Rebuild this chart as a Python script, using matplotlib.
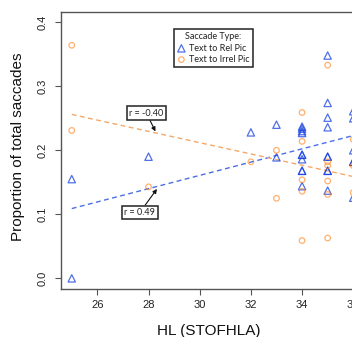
import matplotlib
matplotlib.use("Agg")
import matplotlib.pyplot as plt
import numpy as np

# ---- data ----
rel_x = [25, 25, 28, 32, 33, 33,
         34, 34, 34, 34, 34, 34, 34, 34, 34, 34,
         35, 35, 35, 35, 35, 35, 35, 35, 35,
         36, 36, 36, 36, 36, 36]
rel_y = [0.155, 0.0, 0.19, 0.228, 0.240, 0.189,
         0.237, 0.234, 0.230, 0.227, 0.193, 0.193, 0.186, 0.168, 0.168, 0.144,
         0.348, 0.274, 0.251, 0.236, 0.190, 0.190, 0.168, 0.168, 0.137,
         0.261, 0.250, 0.200, 0.182, 0.182, 0.126]

irrel_x = [25, 25, 28, 32, 33, 33,
           34, 34, 34, 34, 34,
           35, 35, 35, 35, 35, 35,
           36, 36, 36]
irrel_y = [0.364, 0.231, 0.143, 0.182, 0.200, 0.125,
           0.259, 0.214, 0.154, 0.136, 0.059,
           0.333, 0.182, 0.176, 0.152, 0.131, 0.063,
           0.217, 0.176, 0.134]

fit_x = [25, 36]
rel_fit = [0.109, 0.223]
irrel_fit = [0.256, 0.159]

x_ticks = [26, 28, 30, 32, 34, 36]
y_ticks = [0.0, 0.1, 0.2, 0.3, 0.4]

# ---- styling ----
blue_pt = (0.08, 0.25, 0.88, 0.75)
orange_pt = (1.0, 0.5, 0.08, 0.62)
blue_line = "#4a6ee8"
orange_line = "#f5a868"
axis_font = "Liberation Sans"
box_font = "Lato"

W, H = 352, 337
fig = plt.figure(figsize=(W / 100, H / 100), dpi=100)

# axes placement in pixels (right edge lies beyond the cropped figure)
left_px, right_px, top_px, bottom_px = 60.5, 364.5, 12.0, 288.6
ax = fig.add_axes([left_px / W, 1 - bottom_px / H,
                   (right_px - left_px) / W, (bottom_px - top_px) / H])
ax.set_xlim(24.56, 36.44)
ax.set_ylim(-0.016, 0.416)

ax.plot(fit_x, rel_fit, linestyle=(0, (3.5, 2.5)), color=blue_line, lw=1.0, zorder=2)
ax.plot(fit_x, irrel_fit, linestyle=(0, (3.5, 2.5)), color=orange_line, lw=1.0, zorder=2)

ax.scatter(rel_x, rel_y, marker="^", s=28, facecolors="none",
           edgecolors=[blue_pt], linewidths=0.9, zorder=3)
ax.scatter(irrel_x, irrel_y, marker="o", s=16, facecolors="none",
           edgecolors=[orange_pt], linewidths=0.9, zorder=3)

for sp in ["left", "bottom", "top"]:
    ax.spines[sp].set_color("#555555")
    ax.spines[sp].set_linewidth(1.0)
ax.spines["right"].set_visible(False)

ax.set_xticks(x_ticks)
ax.set_yticks(y_ticks)
ax.set_xticklabels([str(v) for v in x_ticks], fontsize=8, family=axis_font, color="#222222")
ax.set_yticklabels([f"{v:.1f}" for v in y_ticks], fontsize=8, family=axis_font,
                   color="#222222", rotation=90, va="center")
ax.tick_params(axis="both", length=4, width=0.8, color="#555555")
ax.tick_params(axis="x", pad=4)
ax.tick_params(axis="y", pad=5)

fig.text(208.7 / W, 1 - 330.5 / H, "HL (STOFHLA)", fontsize=11, family=axis_font,
         ha="center", va="center", color="#111111")
fig.text(18.5 / W, 1 - 146.5 / H, "Proportion of total saccades", fontsize=11,
         family=axis_font, ha="center", va="center", rotation=90, color="#111111")

# annotations
box = dict(boxstyle="square,pad=0.25", fc="white", ec="#222222", lw=1.1)
arrow = dict(arrowstyle="-|>", color="#111111", lw=0.8, mutation_scale=6,
             shrinkA=0, shrinkB=0)
ax.annotate("r = -0.40", xy=(28.27, 0.2295), xytext=(27.92, 0.258),
            fontsize=6.5, family=box_font, ha="center", va="center",
            bbox=box, arrowprops=arrow, color="#222222", zorder=5)
ax.annotate("r = 0.49", xy=(28.33, 0.1396), xytext=(27.66, 0.103),
            fontsize=6.5, family=box_font, ha="center", va="center",
            bbox=box, arrowprops=arrow, color="#222222", zorder=5)

# legend
h1 = ax.scatter([], [], marker="^", s=28, facecolors="none", edgecolors=[blue_pt], linewidths=0.9)
h2 = ax.scatter([], [], marker="o", s=16, facecolors="none", edgecolors=[orange_pt], linewidths=0.9)
leg = ax.legend([h1, h2], ["Text to Rel Pic", "Text to Irrel Pic"],
                title="Saccade Type:", loc="upper left",
                bbox_to_anchor=(173.7 / W, 1 - 29.3 / H), bbox_transform=fig.transFigure,
                borderaxespad=0, fancybox=False, framealpha=1, edgecolor="#222222",
                prop={"family": box_font, "size": 6.5},
                title_fontproperties={"family": box_font, "size": 6.5},
                handletextpad=0.4, handlelength=1.0, borderpad=0.35,
                labelspacing=0.25)
leg.get_frame().set_linewidth(1.1)
for t in leg.get_texts():
    t.set_color("#222222")
leg.get_title().set_color("#222222")

fig.savefig("out.png", dpi=100)
